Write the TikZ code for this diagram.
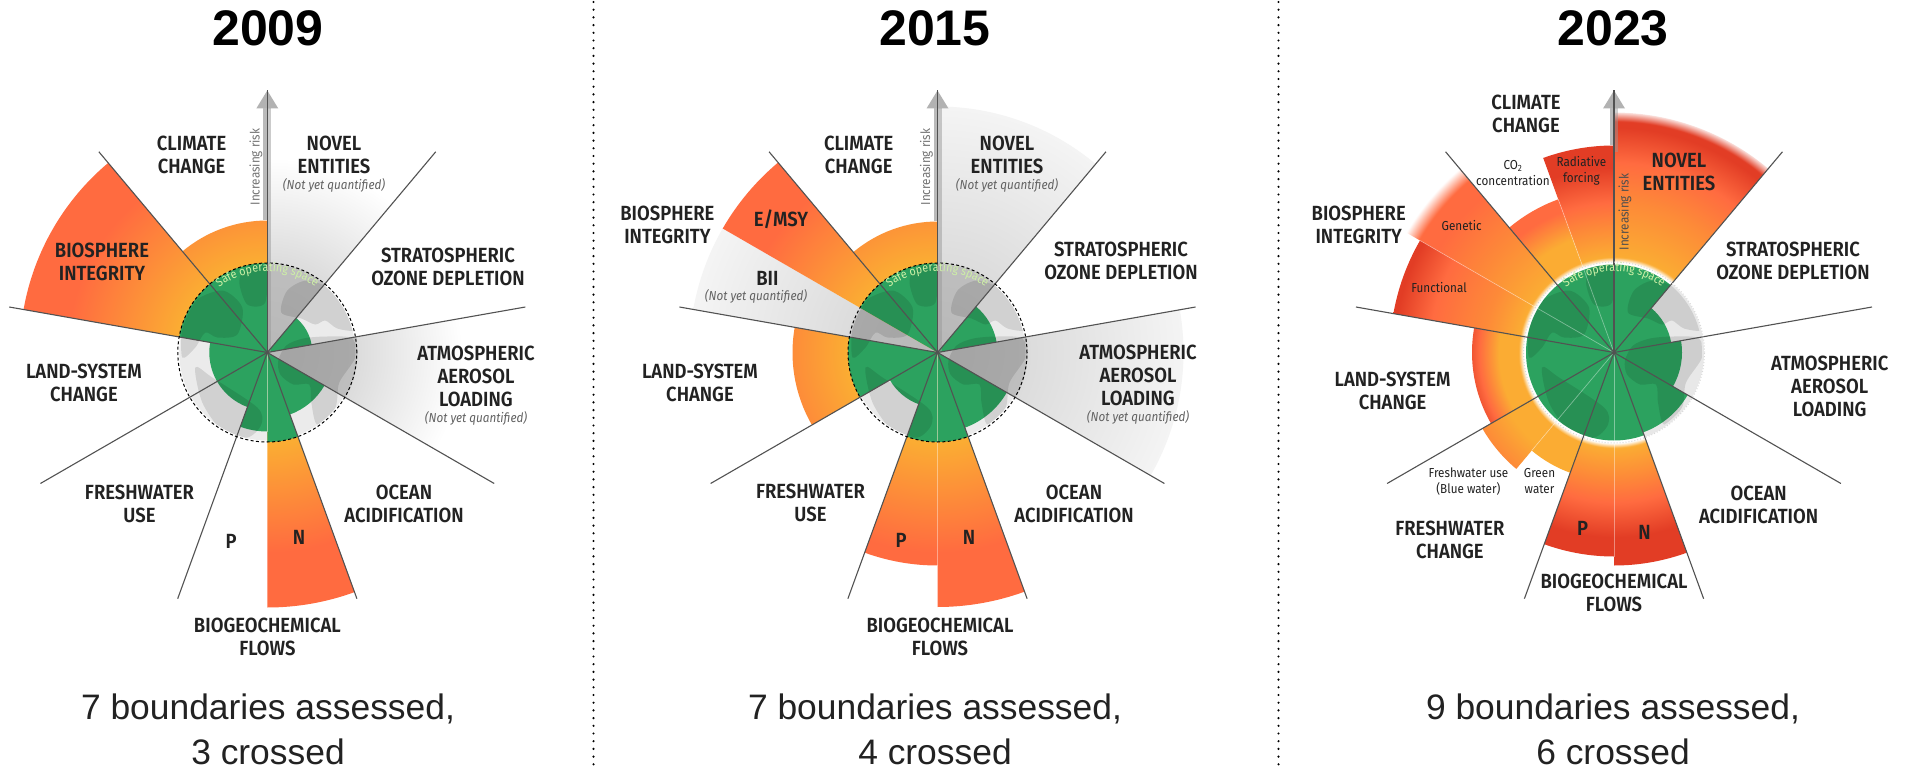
\documentclass[tikz,border=0pt]{standalone}
\usepackage{fontspec}
\usetikzlibrary{decorations.text}
\setmainfont{Liberation Sans}
\newfontfamily\labf[FakeStretch=0.9,BoldFont={Fira Sans SemiBold}]{Fira Sans}
\definecolor{amb}{HTML}{FBAC33}
\definecolor{mid}{HTML}{FD8A38}
\definecolor{cor}{HTML}{FF6B40}
\definecolor{rd}{HTML}{E23D25}
\definecolor{grn}{HTML}{2CA25F}
\definecolor{ink}{HTML}{222222}
\definecolor{safe}{HTML}{CDEFA6}
\definecolor{gr0}{HTML}{B8B8B8}
\definecolor{gr1}{HTML}{BEBEBE}
\definecolor{gr2}{HTML}{DCDCDC}
\definecolor{gr3}{HTML}{F4F4F4}
% radial shadings drawn on a 300pt circle: r px = r/12 bp
\pgfdeclareradialshading{oA}{\pgfpoint{0bp}{0bp}}{color(0bp)=(amb);color(7.67bp)=(amb);color(16.67bp)=(cor);color(50bp)=(cor)}
\pgfdeclareradialshading{gA}{\pgfpoint{0bp}{0bp}}{color(0bp)=(gr0);color(7.4bp)=(gr1);color(7.5bp)=(gr2);color(16.25bp)=(white);color(50bp)=(white)}
\pgfdeclareradialshading{gB}{\pgfpoint{0bp}{0bp}}{color(0bp)=(gr0);color(7.4bp)=(gr1);color(7.5bp)=(gr2);color(20.5bp)=(gr3);color(50bp)=(gr3)}
\pgfdeclareradialshading{sNov}{\pgfpoint{0bp}{0bp}}{color(0bp)=(white);color(7.55bp)=(white);color(7.95bp)=(amb);color(12.5bp)=(mid);color(15.85bp)=(cor);color(18.75bp)=(rd);color(19.25bp)=(rd);color(20.15bp)=(white);color(50bp)=(white)}
\pgfdeclareradialshading{sRed}{\pgfpoint{0bp}{0bp}}{color(0bp)=(white);color(7.55bp)=(white);color(7.95bp)=(amb);color(10.4bp)=(mid);color(12.5bp)=(cor);color(15.4bp)=(rd);color(50bp)=(rd)}
\pgfdeclareradialshading{sFun}{\pgfpoint{0bp}{0bp}}{color(0bp)=(white);color(7.55bp)=(white);color(7.95bp)=(amb);color(10.85bp)=(mid);color(15.4bp)=(cor);color(18.35bp)=(rd);color(50bp)=(rd)}
\pgfdeclareradialshading{sGen}{\pgfpoint{0bp}{0bp}}{color(0bp)=(white);color(7.55bp)=(white);color(7.95bp)=(amb);color(12.5bp)=(mid);color(17bp)=(cor);color(18.75bp)=(cor);color(20bp)=(white);color(50bp)=(white)}
\pgfdeclareradialshading{sCO}{\pgfpoint{0bp}{0bp}}{color(0bp)=(white);color(7.55bp)=(white);color(7.95bp)=(amb);color(10bp)=(amb);color(12.5bp)=(cor);color(50bp)=(cor)}
\pgfdeclareradialshading{sLan}{\pgfpoint{0bp}{0bp}}{color(0bp)=(white);color(7.55bp)=(white);color(7.95bp)=(amb);color(9.6bp)=(amb);color(11.25bp)=(cor);color(12.5bp)=(rd);color(50bp)=(rd)}
\pgfdeclareradialshading{sBlu}{\pgfpoint{0bp}{0bp}}{color(0bp)=(white);color(7.55bp)=(white);color(7.95bp)=(amb);color(10bp)=(amb);color(12.65bp)=(mid);color(50bp)=(mid)}
\pgfdeclareradialshading{sGrw}{\pgfpoint{0bp}{0bp}}{color(0bp)=(white);color(7.55bp)=(white);color(7.95bp)=(amb);color(50bp)=(amb)}
\tikzset{
  lab/.style={font=\labf\bfseries\fontsize{20.5}{23}\selectfont,text=ink,align=center,inner sep=0pt},
  nyq/.style={font=\labf\itshape\fontsize{13}{16}\selectfont,text=black!62,inner sep=0pt},
  smal/.style={font=\labf\fontsize{13}{16}\selectfont,text=ink,align=center,inner sep=0pt},
  risk/.style={font=\labf\fontsize{13}{16}\selectfont,inner sep=0pt,rotate=90},
  title/.style={font=\bfseries\fontsize{50}{56}\selectfont,text=black,inner sep=0pt},
  foot/.style={font=\fontsize{35.4}{45}\selectfont,text=ink,align=center,inner sep=0pt},
  ray/.style={draw=black!68,line width=1.1pt},
  sep/.style={draw=white,opacity=.4,line width=.7pt},
  landfill/.style={fill=black,opacity=.11},
  divider/.style={draw=black,line width=2.4pt,line cap=round,dash pattern=on 0pt off 7.7pt},
}
\newcommand{\wdgpath}[3]{(0,0) -- (#1:#3pt) arc[start angle=#1,end angle=#2,radius=#3pt] -- cycle}
\newcommand{\swdg}[4]{\begin{scope}\clip \wdgpath{#1}{#2}{#3};\shade[shading=#4] (0,0) circle (300pt);\end{scope}}
\newcommand{\gwdg}[3]{\fill[grn] \wdgpath{#1}{#2}{#3};}
\newcommand{\landmass}{\begin{scope}\clip (0,0) circle (88pt);
  \fill[landfill] plot[smooth cycle] coordinates {(14,40) (20,62) (40,72) (65,62) (86,34) (88,22) (70,24) (58,32) (48,28) (34,34)};
  \fill[landfill] plot[smooth cycle] coordinates {(11,-8) (19,7) (36,14) (60,16) (85,14) (88,-5) (72,-30) (68,-55) (50,-72) (44,-50) (42,-32) (26,-32) (13,-22)};
  \fill[landfill] plot[smooth cycle] coordinates {(-85,-5) (-85,25) (-75,50) (-45,62) (-25,45) (-30,18) (-50,15) (-62,20) (-72,5)};
  \fill[landfill] plot[smooth cycle] coordinates {(-28,70) (-22,84) (-2,87) (-2,50) (-20,48)};
  \fill[landfill] plot[smooth cycle] coordinates {(-72,-15) (-55,-25) (-10,-55) (-6,-72) (-20,-85) (-45,-78) (-65,-50)};
\end{scope}}
\newcommand{\rays}{\foreach \a in {50,10,-30,-70,-110,-150,170,130}{\draw[ray] (0,0) -- (\a:262pt);}}
\newcommand{\safetext}{\path[decorate,decoration={text along path,text={|\labf\fontsize{12}{14}\selectfont|Safe operating space},text align=center,text color=safe}]
   (130:81pt) arc[start angle=130,end angle=50,radius=81pt];}
% #1 bottom of left half of the shaft, #2 bottom of right half, #3 opacity of right half
\newcommand{\riskarrow}[3]{
  \coordinate (tip) at (0,262);
  \fill[black!30] (-11,244) -- (tip) -- (11,244) -- cycle;
  \fill[black!27] (-4,244) rectangle (0,#1);
  \fill[black!40,opacity=#3] (0,244) rectangle (4,#2);
  \draw[draw=black!68,line width=1.2pt] (0,0) -- (tip);}
\begin{document}
\begin{tikzpicture}[x=1pt,y=-1pt]
\useasboundingbox (0,0) rectangle (1909,770);
\fill[white] (0,0) rectangle (1909,770);
% dividers
\coordinate (d1a) at (593.5,2); \coordinate (d1b) at (593.5,768);
\coordinate (d2a) at (1278.5,2); \coordinate (d2b) at (1278.5,768);
\draw[divider] (d1a) -- (d1b);
\draw[divider] (d2a) -- (d2b);
% ---------------- panel 2009
\begin{scope}[shift={(267.3,352.5)},y=1pt]
  \fill[black!8] (0,0) circle (88pt);
  \swdg{90}{50}{262}{gA}
  \swdg{10}{-30}{262}{gA}
  \swdg{170}{130}{247.5}{oA}
  \swdg{130}{90}{132}{oA}
  \swdg{-70}{-90}{255}{oA}
  \gwdg{130}{90}{89.5}
  \gwdg{170}{130}{89.5}
  \gwdg{50}{10}{45}
  \gwdg{-30}{-70}{66}
  \gwdg{-70}{-90}{89.5}
  \gwdg{-90}{-110}{79}
  \gwdg{-110}{-150}{58}
  \gwdg{-150}{-190}{58}
  \landmass
  \draw[sep] (0,0) -- (-90:79pt);
  \riskarrow{132}{0}{.5}
  \rays
  \draw[black,line width=1pt,dash pattern=on 3pt off 2.4pt] (0,0) circle (89.5pt);
  \safetext
\end{scope}
% ---------------- panel 2015
\begin{scope}[shift={(937.5,352.5)},y=1pt]
  \fill[black!8] (0,0) circle (88pt);
  \swdg{90}{50}{246}{gB}
  \swdg{10}{-30}{246}{gB}
  \swdg{170}{150}{248}{gB}
  \swdg{150}{130}{248}{oA}
  \swdg{130}{90}{131}{oA}
  \swdg{-150}{-190}{145}{oA}
  \swdg{-90}{-110}{213}{oA}
  \swdg{-70}{-90}{254.5}{oA}
  \gwdg{130}{90}{89.5}
  \gwdg{150}{130}{89.5}
  \gwdg{50}{10}{60}
  \gwdg{-30}{-70}{80}
  \gwdg{-70}{-90}{89.5}
  \gwdg{-90}{-110}{89.5}
  \gwdg{-110}{-150}{55}
  \gwdg{-150}{-190}{89.5}
  \landmass
  \draw[sep] (0,0) -- (-90:213pt);
  \riskarrow{131}{0}{.5}
  \rays
  \draw[black,line width=1pt,dash pattern=on 3pt off 2.4pt] (0,0) circle (89.5pt);
  \safetext
\end{scope}
% ---------------- panel 2023
\begin{scope}[shift={(1614,352.5)},y=1pt]
  \fill[black!9] (0,0) circle (90pt);
  \swdg{90}{50}{240}{sNov}
  \swdg{110}{90}{207}{sRed}
  \swdg{130}{110}{163}{sCO}
  \swdg{150}{130}{240}{sGen}
  \swdg{170}{150}{224}{sFun}
  \swdg{-150}{-190}{142}{sLan}
  \swdg{-130}{-150}{152}{sBlu}
  \swdg{-110}{-130}{128}{sGrw}
  \swdg{-90}{-110}{204}{sRed}
  \swdg{-70}{-90}{213}{sRed}
  \gwdg{90}{50}{88}
  \gwdg{130}{90}{88}
  \gwdg{170}{130}{88}
  \gwdg{50}{10}{58}
  \gwdg{10}{-30}{68}
  \gwdg{-30}{-70}{85}
  \gwdg{-70}{-110}{88}
  \gwdg{-110}{-150}{88}
  \gwdg{-150}{-190}{88}
  \landmass
  \draw[sep] (0,0) -- (110:163pt);
  \draw[sep] (0,0) -- (150:224pt);
  \draw[sep] (0,0) -- (-130:128pt);
  \draw[sep] (0,0) -- (-90:204pt);
  \riskarrow{207}{200}{.45}
  \rays
  \draw[black!15,line width=1pt,dotted] (0,0) circle (90.5pt);
  \safetext
\end{scope}
% titles and captions
\node[title] (t1) at (268,28) {2009};
\node[title] (t2) at (935,28) {2015};
\node[title] (t3) at (1613,28) {2023};
\node[foot] (f1) at (268,729) {7 boundaries assessed,\\3 crossed};
\node[foot] (f2) at (935,729) {7 boundaries assessed,\\4 crossed};
\node[foot] (f3) at (1613,729) {9 boundaries assessed,\\6 crossed};
% labels 2009
\node[lab] (a1) at (191.6,155) {CLIMATE\\CHANGE};
\node[lab] (a2) at (334,155) {NOVEL\\ENTITIES};
\node[nyq] (a3) at (334,185.7) {(Not yet quantified)};
\node[lab] (a4) at (448,267) {STRATOSPHERIC\\OZONE DEPLETION};
\node[lab] (a5) at (476,376) {ATMOSPHERIC\\AEROSOL\\LOADING};
\node[nyq] (a6) at (476,418) {(Not yet quantified)};
\node[lab] (a7) at (404,504) {OCEAN\\ACIDIFICATION};
\node[lab] (a8) at (267.4,637) {BIOGEOCHEMICAL\\FLOWS};
\node[lab] (a9) at (299,537) {N};
\node[lab] (a10) at (231,541) {P};
\node[lab] (a11) at (139.5,503.7) {FRESHWATER\\USE};
\node[lab] (a12) at (84,383) {LAND-SYSTEM\\CHANGE};
\node[lab] (a13) at (102,262) {BIOSPHERE\\INTEGRITY};
\node[risk,text=black!55] (a14) at (256,167) {Increasing risk};
% labels 2015
\node[lab] (b1) at (858.7,155) {CLIMATE\\CHANGE};
\node[lab] (b2) at (1007,155) {NOVEL\\ENTITIES};
\node[nyq] (b3) at (1007,185) {(Not yet quantified)};
\node[lab] (b4) at (1121,261) {STRATOSPHERIC\\OZONE DEPLETION};
\node[lab] (b5) at (1138,375) {ATMOSPHERIC\\AEROSOL\\LOADING};
\node[nyq] (b6) at (1138,417) {(Not yet quantified)};
\node[lab] (b7) at (1074,503.5) {OCEAN\\ACIDIFICATION};
\node[lab] (b8) at (940,637) {BIOGEOCHEMICAL\\FLOWS};
\node[lab] (b9) at (969,537) {N};
\node[lab] (b10) at (901,540) {P};
\node[lab] (b11) at (810.5,503) {FRESHWATER\\USE};
\node[lab] (b12) at (700,383) {LAND-SYSTEM\\CHANGE};
\node[lab] (b13) at (667.4,225) {BIOSPHERE\\INTEGRITY};
\node[lab] (b14) at (781,219) {E/MSY};
\node[lab] (b15) at (767.4,278.6) {BII};
\node[nyq] (b16) at (756,296) {(Not yet quantified)};
\node[risk,text=black!55] (b17) at (926.5,167) {Increasing risk};
% labels 2023
\node[lab] (c1) at (1526,114) {CLIMATE\\CHANGE};
\node[lab] (c2) at (1679,172.3) {NOVEL\\ENTITIES};
\node[lab] (c3) at (1793,261) {STRATOSPHERIC\\OZONE DEPLETION};
\node[lab] (c4) at (1829.7,386) {ATMOSPHERIC\\AEROSOL\\LOADING};
\node[lab] (c5) at (1758.6,505) {OCEAN\\ACIDIFICATION};
\node[lab] (c6) at (1614,592.7) {BIOGEOCHEMICAL\\FLOWS};
\node[lab] (c7) at (1644.5,532.7) {N};
\node[lab] (c8) at (1582.5,528) {P};
\node[lab] (c9) at (1449.9,539.6) {FRESHWATER\\CHANGE};
\node[lab] (c10) at (1392.6,391) {LAND-SYSTEM\\CHANGE};
\node[lab] (c11) at (1358.7,225.4) {BIOSPHERE\\INTEGRITY};
\node[smal] (c12) at (1581.4,170.8) {Radiative\\forcing};
\node[smal] (c13) at (1513,172.7) {CO\textsubscript{2}\\concentration};
\node[smal] (c14) at (1461.7,225.4) {Genetic};
\node[smal] (c15) at (1439,287.7) {Functional};
\node[smal] (c16) at (1468.4,481.5) {Freshwater use\\(Blue water)};
\node[smal] (c17) at (1539.5,481.5) {Green\\water};
\node[risk,text=ink!80] (c18) at (1625,212) {Increasing risk};
\end{tikzpicture}
\end{document}
